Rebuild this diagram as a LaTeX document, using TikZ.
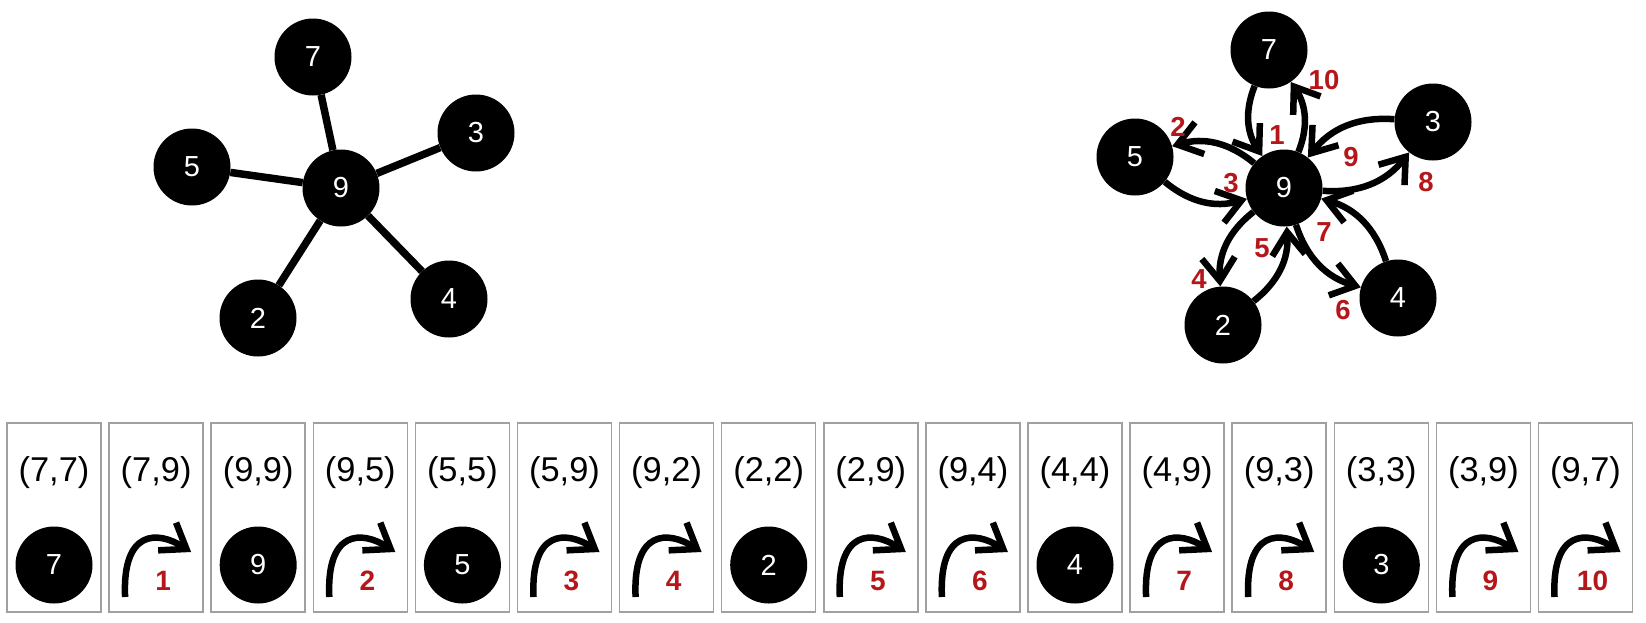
\documentclass[tikz,border=0pt]{standalone}
\usepackage{fontspec}
\setmainfont{Liberation Sans}
\usetikzlibrary{arrows.meta}
\definecolor{lblred}{RGB}{181,22,26}
\definecolor{boxgray}{RGB}{160,160,160}
\begin{document}
\begin{tikzpicture}[x=1pt,y=1pt,
 vnode/.style={circle,fill=black,text=white,minimum size=77pt,inner sep=0pt,font=\fontsize{29}{31}\selectfont},
 uedge/.style={line width=7.5pt},
 darr/.style={line width=6.5pt,-{Straight Barb[length=23pt,width=33pt]},bend right=28},
 elbl/.style={text=lblred,font=\bfseries\fontsize{27.5}{29}\selectfont,inner sep=0pt},
 blbl/.style={text=lblred,font=\bfseries\fontsize{28}{30}\selectfont,inner sep=0pt},
 cell/.style={draw=boxgray,line width=1.5pt,minimum width=94pt,minimum height=189pt,inner sep=0pt},
 pairtxt/.style={font=\fontsize{34.4}{36}\selectfont,inner sep=0pt},
 steparr/.style={line width=6.5pt,-{Straight Barb[length=23pt,width=33pt]}},
]
\useasboundingbox (0,0) rectangle (1646,-622);
% left graph
\node[vnode] (L9) at (341,-188) {9};
\node[vnode] (L7) at (313,-57) {7};
\node[vnode] (L3) at (476,-133) {3};
\node[vnode] (L5) at (192,-167) {5};
\node[vnode] (L2) at (258,-318) {2};
\node[vnode] (L4) at (449,-299) {4};
\foreach \n in {L7,L3,L5,L2,L4} \draw[uedge] (L9) -- (\n);
% right graph
\node[vnode] (R9) at (1284,-188) {9};
\node[vnode] (R7) at (1269,-50) {7};
\node[vnode] (R5) at (1135,-157) {5};
\node[vnode] (R3) at (1433,-122) {3};
\node[vnode] (R2) at (1223,-325) {2};
\node[vnode] (R4) at (1398,-298) {4};
\draw[darr] (R7) to (R9);
\draw[darr] (R9) to (R5);
\draw[darr] (R5) to (R9);
\draw[darr] (R9) to (R2);
\draw[darr] (R2) to (R9);
\draw[darr] (R9) to (R4);
\draw[darr] (R4) to (R9);
\draw[darr] (R9) to (R3);
\draw[darr] (R3) to (R9);
\draw[darr] (R9) to (R7);
\node[elbl] (e1) at (1277,-135) {1};
\node[elbl] (e2) at (1178,-127) {2};
\node[elbl] (e3) at (1231,-183) {3};
\node[elbl] (e4) at (1199,-279) {4};
\node[elbl] (e5) at (1262,-248) {5};
\node[elbl] (e6) at (1343,-310) {6};
\node[elbl] (e7) at (1324,-232) {7};
\node[elbl] (e8) at (1426,-182) {8};
\node[elbl] (e9) at (1351,-157) {9};
\node[elbl] (e10) at (1324,-80) {10};
% bottom strip
\foreach \a/\b [count=\i from 0] in {7/7,7/9,9/9,9/5,5/5,5/9,9/2,2/2,2/9,9/4,4/4,4/9,9/3,3/3,3/9,9/7}{
  \node[cell] (box\i) at (54+102.1*\i,-517.5) {};
  \node[pairtxt] (pair\i) at (54+102.1*\i,-473) {(\a,\b)};
}
\foreach \i/\v in {0/7,2/9,4/5,7/2,10/4,13/3}{
  \node[vnode] (bv\i) at (54+102.1*\i,-565) {\v};
}
\foreach \i/\v in {1/1,3/2,5/3,6/4,8/5,9/6,11/7,12/8,14/9,15/10}{
  \pgfmathsetmacro{\xo}{7+102.1*\i}
  \draw[steparr] (\xo+16,-597) .. controls (\xo+13,-530) and (\xo+48,-530) .. (\xo+82,-552);
  \node[blbl] (bl\i) at (\xo+54,-581) {\v};
}
\end{tikzpicture}
\end{document}
